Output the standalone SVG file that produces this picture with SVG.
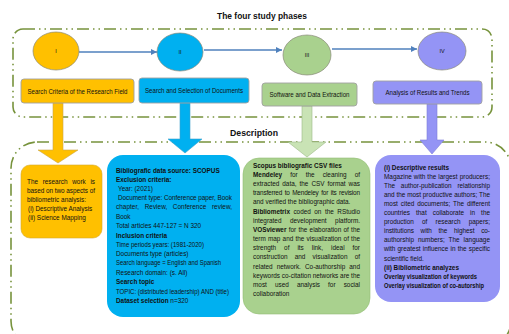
<svg xmlns="http://www.w3.org/2000/svg" width="509" height="334" viewBox="0 0 509 334">
<style>
.t{font-family:"Liberation Sans",Arial,sans-serif;fill:#111}
.s{font-size:6.4px}
.lb{font-size:6.3px}
.h{font-size:9.5px;font-weight:bold}
.b{font-weight:bold}
.dash{fill:none;stroke:#77933C;stroke-width:1.6;stroke-dasharray:12 4 1.5 4 1.5 4}
.link{fill:none;stroke:#4F81BD;stroke-width:1.3;marker-end:url(#ah)}
.ell{stroke:#8a8a7a;stroke-width:0.7}
.lab{stroke:#a0a0a0;stroke-width:0.9}
</style>
<defs>
<marker id="ah" markerWidth="8" markerHeight="8" refX="6" refY="4" orient="auto" markerUnits="userSpaceOnUse">
<path d="M0,1 L6,4 L0,7 z" fill="#4F81BD"/>
</marker>
</defs>
<rect width="509" height="334" fill="#fff"/>

<text class="t h" x="262" y="19" text-anchor="middle" textLength="90" lengthAdjust="spacingAndGlyphs">The four study phases</text>
<rect class="dash" x="13" y="29" width="479" height="88" rx="10"/>
<text class="t h" x="254" y="136" text-anchor="middle" textLength="48" lengthAdjust="spacingAndGlyphs">Description</text>
<rect class="dash" x="11" y="142" width="500" height="205" rx="26"/>

<g id="connectors">
<line class="link" x1="79" y1="52" x2="157" y2="52"/>
<line class="link" x1="204" y1="50" x2="282" y2="50"/>
<line class="link" x1="332" y1="49" x2="417" y2="49"/>
<path d="M53,103 H63 V150 H78 L58,163 L38,150 H53 Z" fill="#FFC000" stroke="#c9a64a" stroke-width="0.6"/>
<path d="M180,103 H190 V139 H202 L185,153 L168,139 H180 Z" fill="#00B0F0" stroke="#3fa3cc" stroke-width="0.6"/>
<path d="M302,106 H312 V142 H326 L307,157 L288,142 H302 Z" fill="#C9E3B5" stroke="#9cba86" stroke-width="0.6"/>
<path d="M427,104 H437 V140 H444 L432,154 L420,140 H427 Z" fill="#9494F5" stroke="#7d7dd8" stroke-width="0.6"/>
</g>

<g id="phase-1">
<ellipse class="ell" cx="56" cy="51" rx="23" ry="19" fill="#FFC000"/>
<text class="t" x="56" y="53" font-size="5.5" text-anchor="middle">I</text>
</g>
<g id="phase-2">
<ellipse class="ell" cx="180" cy="52" rx="23" ry="19" fill="#00B0F0"/>
<text class="t" x="180" y="54" font-size="5.5" text-anchor="middle">II</text>
</g>
<g id="phase-3">
<ellipse class="ell" cx="307" cy="55" rx="24" ry="20" fill="#A9D18E"/>
<text class="t" x="307" y="57" font-size="5.5" text-anchor="middle">III</text>
</g>
<g id="phase-4">
<ellipse class="ell" cx="442" cy="51" rx="24" ry="19" fill="#9494F5"/>
<text class="t" x="442" y="53" font-size="5.5" text-anchor="middle">IV</text>
</g>

<g id="label-1">
<rect class="lab" x="21" y="79" width="113" height="24" rx="3" fill="#FFC000"/>
<text class="t lb" x="77.5" y="93.5" text-anchor="middle" textLength="100" lengthAdjust="spacingAndGlyphs">Search Criteria of the Research Field</text>
</g>
<g id="label-2">
<rect class="lab" x="139" y="78" width="110" height="25" rx="3" fill="#00B0F0"/>
<text class="t lb" x="194" y="92.5" text-anchor="middle" textLength="98" lengthAdjust="spacingAndGlyphs">Search and Selection of Documents</text>
</g>
<g id="label-3">
<rect class="lab" x="262" y="83" width="95" height="23" rx="3" fill="#A9D18E"/>
<text class="t lb" x="309.5" y="97" text-anchor="middle" textLength="80" lengthAdjust="spacingAndGlyphs">Software and Data Extraction</text>
</g>
<g id="label-4">
<rect class="lab" x="373" y="81" width="109" height="23" rx="3" fill="#9494F5"/>
<text class="t lb" x="427.5" y="95" text-anchor="middle" textLength="84" lengthAdjust="spacingAndGlyphs">Analysis of Results and Trends</text>
</g>

<g id="desc-1">
<rect x="21" y="165" width="81" height="73" rx="9" fill="#FFC000" stroke="#d4a92e" stroke-width="0.6"/>
<text class="t s" x="27" y="184" word-spacing="2.9" textLength="68" lengthAdjust="spacing">The research work is</text>
<text class="t s" x="27" y="193" textLength="68" lengthAdjust="spacing">based on two aspects of</text>
<text class="t s" x="27" y="202">bibliometric analysis:</text>
<text class="t s" x="28" y="211">(i) Descriptive Analysis</text>
<text class="t s" x="28" y="220">(ii) Science Mapping</text>
</g>

<g id="desc-2">
<rect x="107" y="155" width="133" height="162" rx="16" fill="#00B0F0"/>
<text class="t s b" x="116" y="172.5">Bibliografic data source: SCOPUS</text>
<text class="t s b" x="116" y="181.5">Exclusion criteria:</text>
<text class="t s" x="118" y="190.5">Year: (2021)</text>
<text class="t s" x="118" y="200" textLength="114" lengthAdjust="spacing">Document type: Conference paper, Book</text>
<text class="t s" x="116" y="209" word-spacing="3.8" textLength="116" lengthAdjust="spacing">chapter, Review, Conference review,</text>
<text class="t s" x="116" y="218.5">Book</text>
<text class="t s" x="116" y="228">Total articles 447-127 = N 320</text>
<text class="t s b" x="116" y="237.5">Inclusion criteria</text>
<text class="t s" x="116" y="246.5" textLength="88" lengthAdjust="spacingAndGlyphs">Time periods years: (1981-2020)</text>
<text class="t s" x="116" y="256">Documents type (articles)</text>
<text class="t s" x="116" y="265" textLength="105" lengthAdjust="spacingAndGlyphs">Search language = English and Spanish</text>
<text class="t s" x="116" y="274.5">Research domain: (s. All)</text>
<text class="t s b" x="116" y="284">Search topic</text>
<text class="t s" x="116" y="293.5" textLength="113" lengthAdjust="spacingAndGlyphs">TOPIC: (distributed leadership) AND (title)</text>
<text class="t s" x="116" y="302.5"><tspan class="b">Dataset selection</tspan> n=320</text>
</g>

<g id="desc-3">
<rect x="243" y="158" width="127" height="156" rx="16" fill="#A9D18E" stroke="#93bd76" stroke-width="0.6"/>
<text class="t s b" x="253" y="167.5">Scopus bibliografic CSV files</text>
<text class="t s" x="253" y="177" word-spacing="6.3" textLength="107" lengthAdjust="spacing"><tspan class="b">Mendeley</tspan> for the cleaning of</text>
<text class="t s" x="253" y="186" word-spacing="1.2" textLength="107" lengthAdjust="spacing">extracted data, the CSV format was</text>
<text class="t s" x="253" y="195" word-spacing="0.9" textLength="107" lengthAdjust="spacing">transferred to Mendeley for its revision</text>
<text class="t s" x="253" y="204">and verified the bibliographic data.</text>
<text class="t s" x="253" y="213.5" word-spacing="1.7" textLength="107" lengthAdjust="spacing"><tspan class="b">Bibliometrix</tspan> coded on the RStudio</text>
<text class="t s" x="253" y="222.5" word-spacing="6.7" textLength="107" lengthAdjust="spacing">integrated development platform.</text>
<text class="t s" x="253" y="232" word-spacing="0.5" textLength="107" lengthAdjust="spacing"><tspan class="b">VOSviewer</tspan> for the elaboration of the</text>
<text class="t s" x="253" y="241" word-spacing="0.4" textLength="107" lengthAdjust="spacing">term map and the visualization of the</text>
<text class="t s" x="253" y="250" word-spacing="6.2" textLength="107" lengthAdjust="spacing">strength of its link, ideal for</text>
<text class="t s" x="253" y="259" word-spacing="5.4" textLength="107" lengthAdjust="spacing">construction and visualization of</text>
<text class="t s" x="253" y="268.5" word-spacing="2.3" textLength="107" lengthAdjust="spacing">related network. Co-authorship and</text>
<text class="t s" x="253" y="277.5" textLength="107" lengthAdjust="spacing">keywords co-citation networks are the</text>
<text class="t s" x="253" y="286.5" word-spacing="6.3" textLength="107" lengthAdjust="spacing">most used analysis for social</text>
<text class="t s" x="253" y="295.5">collaboration</text>
</g>

<g id="desc-4">
<rect x="375" y="155" width="125" height="147" rx="16" fill="#9494F5"/>
<text class="t s b" x="384" y="169.5">(i) Descriptive results</text>
<text class="t s" x="384" y="178.6" word-spacing="0.3" textLength="106" lengthAdjust="spacing">Magazine with the largest producers;</text>
<text class="t s" x="384" y="187.7" word-spacing="4.1" textLength="106" lengthAdjust="spacing">The author-publication relationship</text>
<text class="t s" x="384" y="196.8" textLength="106" lengthAdjust="spacing">and the most productive authors; The</text>
<text class="t s" x="384" y="205.9" word-spacing="1.1" textLength="106" lengthAdjust="spacing">most cited documents; The different</text>
<text class="t s" x="384" y="215" word-spacing="4.3" textLength="106" lengthAdjust="spacing">countries that collaborate in the</text>
<text class="t s" x="384" y="224.1" word-spacing="6.4" textLength="106" lengthAdjust="spacing">production of research papers;</text>
<text class="t s" x="384" y="233.2" word-spacing="4.9" textLength="106" lengthAdjust="spacing">institutions with the highest co-</text>
<text class="t s" x="384" y="242.3" word-spacing="2.2" textLength="106" lengthAdjust="spacing">authorship numbers; The language</text>
<text class="t s" x="384" y="251.4" word-spacing="0.4" textLength="106" lengthAdjust="spacing">with greatest influence in the specific</text>
<text class="t s" x="384" y="260.5">scientific field.</text>
<text class="t s b" x="384" y="269.6">(ii) Bibliometric analyzes</text>
<text class="t s b" x="384" y="278.7" textLength="93" lengthAdjust="spacingAndGlyphs">Overlay visualization of keywords</text>
<text class="t s b" x="384" y="287.8" textLength="100" lengthAdjust="spacingAndGlyphs">Overlay visualization of co-autorship</text>
</g>
</svg>
